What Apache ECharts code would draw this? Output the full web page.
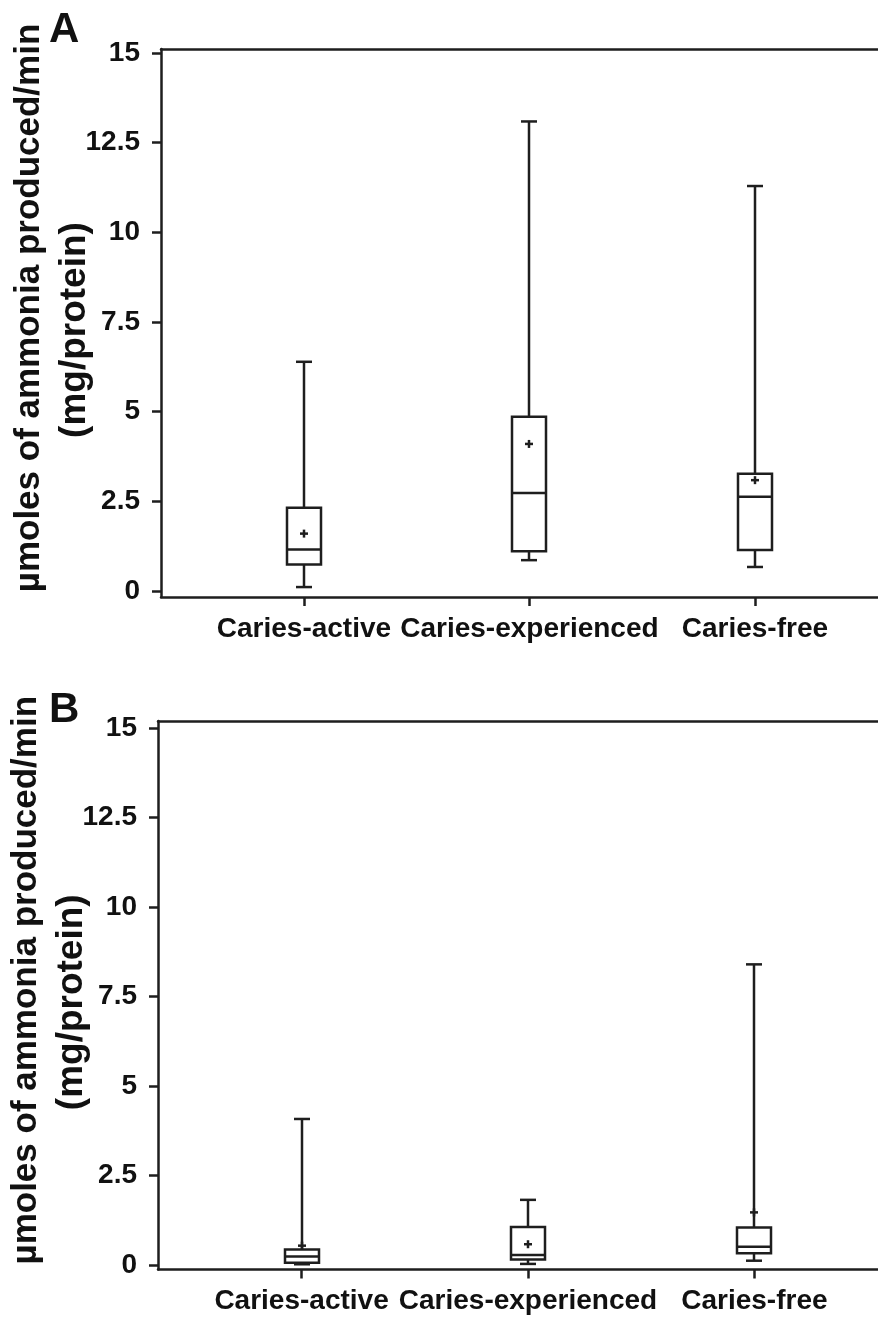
<!DOCTYPE html>
<html>
<head>
<meta charset="utf-8">
<script src="https://cdn.jsdelivr.net/npm/echarts@6/dist/echarts.min.js"></script>
<style>
html,body{margin:0;padding:0;background:#fff;}
#c{width:878px;height:1321px;}
</style>
</head>
<body>
<div id="c"></div>
<script>
// ---- data ----
const categories = ['Caries-active', 'Caries-experienced', 'Caries-free'];
const yTicks = [0, 2.5, 5, 7.5, 10, 12.5, 15];
const panelLabels = ['A', 'B'];
const yTitleLine1 = 'µmoles of ammonia produced/min';
const yTitleLine2 = '(mg/protein)';

// Panel A
const aMin  = [0.11, 0.86, 0.67];
const aQ1   = [0.74, 1.11, 1.14];
const aMed  = [1.16, 2.73, 2.63];
const aQ3   = [2.32, 4.86, 3.27];
const aMax  = [6.39, 13.09, 11.29];
const aMean = [1.60, 4.10, 3.09];

// Panel B
const bMin  = [0.02, 0.03, 0.12];
const bQ1   = [0.06, 0.15, 0.33];
const bMed  = [0.24, 0.28, 0.51];
const bQ3   = [0.43, 1.06, 1.05];
const bMax  = [4.08, 1.82, 8.40];
const bMean = [0.54, 0.58, 1.47];

const INK = '#1e1e1e';
const FONT = 'Liberation Sans, Arial, Helvetica, sans-serif';
const LW = 2.5;

function rows(mn, q1, md, q3, mx, mean) {
  return categories.map((c, i) => [i, mn[i], q1[i], md[i], q3[i], mx[i], mean[i]]);
}

function renderBox(params, api) {
  const x = api.value(0);
  const pMin = api.coord([x, api.value(1)]);
  const pQ1 = api.coord([x, api.value(2)]);
  const pMed = api.coord([x, api.value(3)]);
  const pQ3 = api.coord([x, api.value(4)]);
  const pMax = api.coord([x, api.value(5)]);
  const pMean = api.coord([x, api.value(6)]);
  const cx = Math.round(pMed[0]);
  const bw = 17, cw = 8, m = 4;
  const st = { stroke: INK, lineWidth: LW, fill: null };
  const ln = (x1, y1, x2, y2) => ({ type: 'line', shape: { x1, y1, x2, y2 }, style: st });
  return {
    type: 'group',
    children: [
      ln(cx, pMax[1], cx, pQ3[1]),
      ln(cx, pQ1[1], cx, pMin[1]),
      ln(cx - cw, pMax[1], cx + cw, pMax[1]),
      ln(cx - cw, pMin[1], cx + cw, pMin[1]),
      { type: 'rect', shape: { x: cx - bw, y: pQ3[1], width: 2 * bw, height: pQ1[1] - pQ3[1] },
        style: { stroke: INK, lineWidth: LW, fill: 'rgba(0,0,0,0)' } },
      ln(cx - bw, pMed[1], cx + bw, pMed[1]),
      ln(cx - m, pMean[1], cx + m, pMean[1]),
      ln(cx, pMean[1] - m, cx, pMean[1] + m)
    ]
  };
}

const axisLineStyle = { color: INK, width: LW };

function bottomX(gridIndex) {
  return {
    gridIndex, type: 'value', min: -0.634, max: 2.546, position: 'bottom',
    axisLine: { show: true, onZero: false, lineStyle: axisLineStyle },
    axisTick: { show: true, customValues: [0, 1, 2], length: 9, lineStyle: { color: INK, width: LW } },
    axisLabel: {
      customValues: [0, 1, 2], formatter: v => categories[Math.round(v)],
      hideOverlap: false, showMinLabel: true, showMaxLabel: true,
      margin: 18, fontSize: 28, fontWeight: 'bold', color: '#111', fontFamily: FONT
    },
    splitLine: { show: false }
  };
}
function topX(gridIndex) {
  return {
    gridIndex, type: 'value', min: -0.634, max: 2.546, position: 'top',
    axisLine: { show: true, onZero: false, lineStyle: axisLineStyle },
    axisTick: { show: false }, axisLabel: { show: false }, splitLine: { show: false }
  };
}
function leftY(gridIndex, min, max) {
  return {
    gridIndex, type: 'value', min, max,
    axisLine: { show: true, onZero: false, lineStyle: axisLineStyle },
    axisTick: { show: true, customValues: yTicks, length: 9, lineStyle: { color: INK, width: LW } },
    axisLabel: {
      customValues: yTicks, formatter: v => String(v),
      hideOverlap: false, showMinLabel: true, showMaxLabel: true,
      margin: 21, fontSize: 28, fontWeight: 'bold', color: '#111', fontFamily: FONT
    },
    splitLine: { show: false },
    name: '{l1|' + yTitleLine1 + '}\n{l2|' + yTitleLine2 + '}',
    nameLocation: 'middle', nameRotate: 90, nameGap: 68, nameMoveOverlap: false,
    nameTextStyle: {
      fontWeight: 'bold', color: '#111', fontFamily: FONT, align: 'center',
      padding: [0, 0, 0, 30],
      rich: {
        l1: { fontSize: 35, lineHeight: 56, fontWeight: 'bold', fontFamily: FONT, color: '#111' },
        l2: { fontSize: 37, lineHeight: 36, fontWeight: 'bold', fontFamily: FONT, color: '#111', padding: [0, 44, 0, 0] }
      }
    }
  };
}

const chart = echarts.init(document.getElementById('c'), null, { renderer: 'canvas' });
chart.setOption({
  animation: false,
  backgroundColor: '#fff',
  title: [
    { text: panelLabels[0], left: 44, top: 4, textStyle: { fontSize: 42, fontWeight: 'bold', color: '#111', fontFamily: FONT } },
    { text: panelLabels[1], left: 44, top: 684, textStyle: { fontSize: 42, fontWeight: 'bold', color: '#111', fontFamily: FONT } }
  ],
  grid: [
    { left: 161, top: 49, right: 0, bottom: 724, containLabel: false, outerBoundsMode: 'none' },
    { left: 158, top: 721, right: 0, bottom: 51.5, containLabel: false, outerBoundsMode: 'none' }
  ],
  xAxis: [bottomX(0), topX(0), bottomX(1), topX(1)],
  yAxis: [leftY(0, -0.167, 15.11), leftY(1, -0.126, 15.2)],
  series: [
    { type: 'custom', xAxisIndex: 0, yAxisIndex: 0, renderItem: renderBox,
      encode: { x: 0, y: [1, 2, 3, 4, 5, 6] }, data: rows(aMin, aQ1, aMed, aQ3, aMax, aMean), clip: false },
    { type: 'custom', xAxisIndex: 2, yAxisIndex: 1, renderItem: renderBox,
      encode: { x: 0, y: [1, 2, 3, 4, 5, 6] }, data: rows(bMin, bQ1, bMed, bQ3, bMax, bMean), clip: false }
  ]
});
</script>
</body>
</html>
